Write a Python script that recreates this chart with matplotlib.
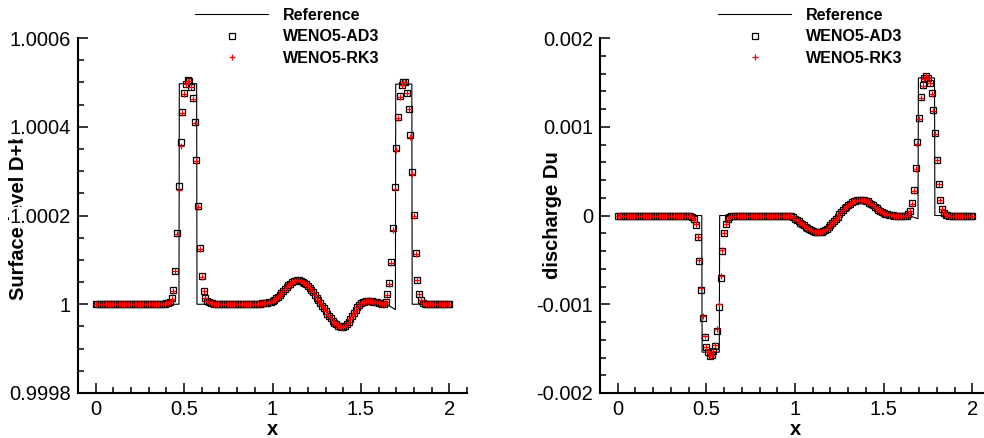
import numpy as np
import matplotlib
matplotlib.use("Agg")
import matplotlib.pyplot as plt
from matplotlib.ticker import MultipleLocator

plt.rcParams['font.family'] = ['Liberation Sans', 'DejaVu Sans']

# numerical grid, dx = 0.01 on [0, 2]
x_num = np.round(np.arange(201) * 0.01, 2)

# surface level minus 1, in units of 1e-5 (one row = 0.1 in x)
eta_ad3 = [
    0, 0, 0, 0, 0, 0, 0, 0, 0, 0,
    0, 0, 0, 0, 0, 0, 0, 0, 0, 0,
    0, 0, 0, 0, 0, 0, 0, 0, 0, 0,
    0, 0, 0, 0, 0, 0, 0, 0, 0.05, 0.1,
    0.2, 0.3, 0.6, 1.3, 3.1, 7.6, 16.0, 26.6, 36.5, 43.4,
    47.5, 49.7, 50.5, 50.3, 49.0, 46.4, 41.0, 32.5, 22.2, 12.7,
    6.3, 3.0, 1.4, 0.7, 0.45, 0.3, 0.2, 0.15, 0.1, 0.1,
    0.05, 0, 0, 0, 0, 0, 0, 0, 0, 0,
    0, 0, 0, 0, 0, 0, 0, 0, 0, 0,
    0.05, 0.1, 0.1, 0.15, 0.2, 0.2, 0.25, 0.3, 0.4, 0.55,
    0.75, 0.95, 1.3, 1.7, 2.15, 2.6, 3.05, 3.5, 3.9, 4.3,
    4.65, 4.95, 5.2, 5.35, 5.4, 5.4, 5.3, 5.1, 4.85, 4.5,
    4.1, 3.7, 3.25, 2.7, 2.1, 1.5, 0.95, 0.35, -0.3, -0.9,
    -1.5, -2.1, -2.7, -3.2, -3.7, -4.15, -4.5, -4.8, -5.0, -5.1,
    -5.05, -4.85, -4.45, -3.95, -3.3, -2.6, -1.9, -1.25, -0.65, -0.15,
    0.2, 0.45, 0.6, 0.7, 0.7, 0.7, 0.65, 0.55, 0.5, 0.4,
    0.35, 0.25, 0.15, 0.1, 0.5, 2.2, 4.7, 9.5, 17.1, 26.4,
    35.1, 42.2, 47.0, 49.4, 50.1, 50.0, 47.7, 44.1, 38.1, 29.7,
    20.2, 11.6, 5.5, 2.4, 0.9, 0.3, 0.1, 0, 0, 0,
    0, 0, 0, 0, 0, 0, 0, 0, 0, 0,
    0,
]
eta_rk3 = [
    0, 0, 0, 0, 0, 0, 0, 0, 0, 0,
    0, 0, 0, 0, 0, 0, 0, 0, 0, 0,
    0, 0, 0, 0, 0, 0, 0, 0, 0, 0,
    0, 0, 0, 0, 0, 0, 0, 0, 0.05, 0.1,
    0.2, 0.3, 0.6, 1.2, 3.0, 7.4, 15.8, 25.8, 35.6, 43.0,
    47.3, 49.6, 50.4, 50.3, 49.0, 46.3, 40.8, 32.2, 22.0, 12.5,
    6.2, 3.0, 1.4, 0.7, 0.45, 0.3, 0.2, 0.15, 0.1, 0.1,
    0.05, 0, 0, 0, 0, 0, 0, 0, 0, 0,
    0, 0, 0, 0, 0, 0, 0, 0, 0, 0,
    0.05, 0.1, 0.1, 0.15, 0.2, 0.2, 0.25, 0.3, 0.4, 0.55,
    0.75, 0.95, 1.3, 1.7, 2.15, 2.6, 3.05, 3.5, 3.9, 4.3,
    4.65, 4.95, 5.2, 5.35, 5.4, 5.4, 5.3, 5.1, 4.85, 4.5,
    4.1, 3.7, 3.25, 2.7, 2.1, 1.5, 0.95, 0.35, -0.3, -0.9,
    -1.5, -2.1, -2.7, -3.2, -3.7, -4.15, -4.5, -4.8, -5.0, -5.1,
    -5.05, -4.85, -4.45, -3.95, -3.3, -2.6, -1.9, -1.25, -0.65, -0.15,
    0.2, 0.45, 0.6, 0.7, 0.7, 0.7, 0.65, 0.55, 0.5, 0.4,
    0.35, 0.25, 0.15, 0.1, 0.4, 2.0, 4.5, 9.3, 16.8, 26.0,
    34.8, 42.0, 46.8, 49.3, 50.0, 50.0, 47.6, 43.9, 37.8, 29.4,
    20.0, 11.4, 5.4, 2.3, 0.9, 0.3, 0.1, 0, 0, 0,
    0, 0, 0, 0, 0, 0, 0, 0, 0, 0,
    0,
]

# discharge Du, in units of 1e-4
du_ad3 = [
    0, 0, 0, 0, 0, 0, 0, 0, 0, 0,
    0, 0, 0, 0, 0, 0, 0, 0, 0, 0,
    0, 0, 0, 0, 0, 0, 0, 0, 0, 0,
    0, 0, 0, 0, 0, 0, 0, 0, 0, 0,
    -0.05, -0.1, -0.2, -0.4, -1.05, -2.45, -5.1, -8.4, -11.5, -13.7,
    -14.8, -15.4, -15.8, -15.7, -15.3, -14.7, -13.0, -10.3, -7.0, -4.0,
    -2.0, -0.94, -0.4, -0.2, -0.1, -0.05, 0, 0, 0, 0,
    0, 0, 0, 0, 0, 0, 0, 0, 0, 0,
    0, 0, 0, 0, 0, 0, 0, 0, 0, 0,
    0, 0, 0, 0, 0, 0, -0.02, -0.05, -0.1, -0.2,
    -0.35, -0.5, -0.65, -0.8, -0.95, -1.1, -1.25, -1.4, -1.55, -1.65,
    -1.75, -1.82, -1.87, -1.9, -1.88, -1.83, -1.75, -1.63, -1.5, -1.32,
    -1.1, -0.87, -0.62, -0.37, -0.12, 0.13, 0.37, 0.6, 0.8, 1.0,
    1.17, 1.33, 1.47, 1.58, 1.67, 1.74, 1.78, 1.8, 1.79, 1.75,
    1.68, 1.58, 1.45, 1.3, 1.14, 0.97, 0.8, 0.64, 0.5, 0.38,
    0.28, 0.2, 0.14, 0.1, 0.06, 0.03, 0.0, -0.02, -0.05, -0.07,
    -0.1, -0.1, -0.08, 0.0, 0.2, 0.56, 1.39, 2.9, 5.4, 8.3,
    11.0, 13.3, 14.7, 15.5, 15.7, 15.5, 14.9, 13.8, 11.9, 9.3,
    6.3, 3.6, 1.7, 0.76, 0.26, 0.1, 0.05, 0, 0, 0,
    0, 0, 0, 0, 0, 0, 0, 0, 0, 0,
    0,
]
du_rk3 = [
    0, 0, 0, 0, 0, 0, 0, 0, 0, 0,
    0, 0, 0, 0, 0, 0, 0, 0, 0, 0,
    0, 0, 0, 0, 0, 0, 0, 0, 0, 0,
    0, 0, 0, 0, 0, 0, 0, 0, 0, 0,
    -0.05, -0.1, -0.2, -0.4, -1.0, -2.4, -5.0, -8.2, -11.3, -13.6,
    -14.8, -15.4, -15.8, -15.7, -15.3, -14.6, -12.8, -10.0, -6.8, -3.9,
    -2.0, -0.94, -0.4, -0.2, -0.1, -0.05, 0, 0, 0, 0,
    0, 0, 0, 0, 0, 0, 0, 0, 0, 0,
    0, 0, 0, 0, 0, 0, 0, 0, 0, 0,
    0, 0, 0, 0, 0, 0, -0.02, -0.05, -0.1, -0.2,
    -0.35, -0.5, -0.65, -0.8, -0.95, -1.1, -1.25, -1.4, -1.55, -1.65,
    -1.75, -1.82, -1.87, -1.9, -1.88, -1.83, -1.75, -1.63, -1.5, -1.32,
    -1.1, -0.87, -0.62, -0.37, -0.12, 0.13, 0.37, 0.6, 0.8, 1.0,
    1.17, 1.33, 1.47, 1.58, 1.67, 1.74, 1.78, 1.8, 1.79, 1.75,
    1.68, 1.58, 1.45, 1.3, 1.14, 0.97, 0.8, 0.64, 0.5, 0.38,
    0.28, 0.2, 0.14, 0.1, 0.06, 0.03, 0.0, -0.02, -0.05, -0.07,
    -0.1, -0.1, -0.08, 0.0, 0.18, 0.5, 1.3, 2.8, 5.2, 8.1,
    10.9, 13.2, 14.6, 15.4, 15.7, 15.5, 14.9, 13.7, 11.8, 9.2,
    6.2, 3.5, 1.7, 0.75, 0.26, 0.1, 0.05, 0, 0, 0,
    0, 0, 0, 0, 0, 0, 0, 0, 0, 0,
    0,
]

# reference solution (fine grid), read as a polyline
ref_eta_x = [0.0, 0.471, 0.473, 0.571, 0.573, 0.90, 0.95, 1.00, 1.05, 1.10, 1.15,
             1.20, 1.25, 1.30, 1.35, 1.40, 1.45, 1.50, 1.55, 1.60, 1.64,
             1.695, 1.697, 1.788, 1.790, 2.0]
ref_eta = [0, 0, 49.7, 49.7, 0, 0, 0.2, 0.75, 2.6, 4.65, 5.4,
           4.1, 1.5, -1.5, -4.15, -5.05, -2.6, 0.2, 0.7, 0.35, 0.1,
           -1.2, 49.6, 49.6, 0, 0]
ref_du_x = [0.0, 0.474, 0.476, 0.573, 0.575, 0.95, 1.00, 1.05, 1.10, 1.15,
            1.20, 1.25, 1.30, 1.35, 1.40, 1.45, 1.50, 1.55, 1.60, 1.64,
            1.694, 1.696, 1.787, 1.789, 2.0]
ref_du = [0, 0, -15.4, -15.4, 0, 0, -0.35, -1.1, -1.75, -1.83,
          -1.1, 0.13, 1.17, 1.74, 1.68, 0.97, 0.28, 0.03, -0.1, 0.0,
          -0.37, 15.5, 15.5, 0, 0]

x_ticks = [0, 0.5, 1, 1.5, 2]
x_ticklabels = ['0', '0.5', '1', '1.5', '2']
eta_ticks = [0.9998, 1.0, 1.0002, 1.0004, 1.0006]
eta_ticklabels = ['0.9998', '1', '1.0002', '1.0004', '1.0006']
du_ticks = [-0.002, -0.001, 0.0, 0.001, 0.002]
du_ticklabels = ['-0.002', '-0.001', '0', '0.001', '0.002']

W, H = 984, 438
fig = plt.figure(figsize=(W / 100, H / 100), dpi=100)
ax1 = fig.add_axes([78 / W, 45 / H, 389 / W, 355 / H])
ax2 = fig.add_axes([600 / W, 45 / H, 390 / W, 355 / H])

panels = [
    (ax1, 1 + np.array(ref_eta) * 1e-5, ref_eta_x,
     1 + np.array(eta_ad3) * 1e-5, 1 + np.array(eta_rk3) * 1e-5,
     (0.9998, 1.0006), eta_ticks, eta_ticklabels, 0.00005,
     'Surface level D+b', -0.154, 195),
    (ax2, np.array(ref_du) * 1e-4, ref_du_x,
     np.array(du_ad3) * 1e-4, np.array(du_rk3) * 1e-4,
     (-0.002, 0.002), du_ticks, du_ticklabels, 0.0002,
     'discharge Du', -0.123, 718),
]

for ax, ref_y, ref_x, ad3, rk3, ylim, yt, ytl, yminor, ylab, ylab_x, leg_x in panels:
    l_ref, = ax.plot(ref_x, ref_y, color='black', lw=0.8, label='Reference')
    l_ad3, = ax.plot(x_num, ad3, ls='none', marker='s', ms=4.5, mfc='none',
                     mec='black', mew=0.9, label='WENO5-AD3')
    l_rk3, = ax.plot(x_num, rk3, ls='none', marker='+', ms=4.5, color='red',
                     mew=0.9, label='WENO5-RK3')

    ax.set_xlim(-0.1, 2.1)
    ax.set_ylim(*ylim)
    ax.set_xticks(x_ticks)
    ax.set_xticklabels(x_ticklabels)
    ax.set_yticks(yt)
    ax.set_yticklabels(ytl)
    ax.xaxis.set_minor_locator(MultipleLocator(0.1))
    ax.yaxis.set_minor_locator(MultipleLocator(yminor))
    ax.tick_params(which='both', direction='in', labelsize=14.5, width=1.1,
                   top=False, right=False)
    ax.tick_params(which='major', length=7, pad=5)
    ax.tick_params(which='minor', length=4)
    for s in ['top', 'right']:
        ax.spines[s].set_visible(False)
    for s in ['left', 'bottom']:
        ax.spines[s].set_linewidth(1.5)
    # tick labels sit on top of the axis title, as in the source figure
    for lbl in ax.get_yticklabels():
        lbl.set_bbox(dict(facecolor='white', edgecolor='none', pad=0.5))

    ax.set_xlabel('x', fontsize=14.5, fontweight='bold', labelpad=1)
    ax.text(ylab_x, 0.5, ylab, transform=ax.transAxes, rotation=90,
            ha='center', va='center', fontsize=14.5, fontweight='bold',
            zorder=1, clip_on=False)

    ax.legend(handles=[l_ref, l_ad3, l_rk3], loc='upper left',
              bbox_to_anchor=(leg_x / W, 1 - 8 / H), bbox_transform=fig.transFigure,
              frameon=False, borderpad=0, borderaxespad=0, handlelength=4.6,
              handletextpad=0.9, labelspacing=0.4, numpoints=1,
              prop={'size': 11.5, 'weight': 'bold'})

fig.savefig('out.png', dpi=100)
